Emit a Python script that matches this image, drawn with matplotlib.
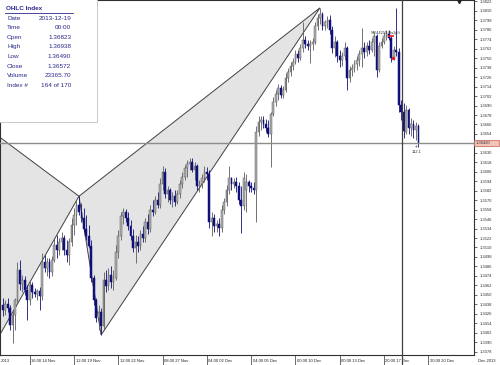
import matplotlib
matplotlib.use("Agg")
import matplotlib.pyplot as plt
from matplotlib.patches import Rectangle, Polygon
from matplotlib.transforms import blended_transform_factory

# ---------------- data (4h bars) ----------------
opens = [1.3437, 1.3431, 1.3438, 1.3433, 1.3412, 1.3424, 1.3443, 1.3481, 1.3464, 1.3469,
         1.3456, 1.3443, 1.3462, 1.3454, 1.3451, 1.3455, 1.3448, 1.3492, 1.3484, 1.3492,
         1.3479, 1.3494, 1.3513, 1.3507, 1.3517, 1.3522, 1.3507, 1.3500, 1.3517, 1.3538,
         1.3551, 1.3564, 1.3555, 1.3547, 1.3534, 1.3524, 1.3512, 1.3471, 1.3443, 1.3420,
         1.3428, 1.3410, 1.3469, 1.3461, 1.3475, 1.3466, 1.3471, 1.3504, 1.3524, 1.3550,
         1.3555, 1.3547, 1.3537, 1.3524, 1.3509, 1.3517, 1.3512, 1.3527, 1.3522, 1.3542,
         1.3534, 1.3557, 1.3555, 1.3570, 1.3564, 1.3590, 1.3606, 1.3578, 1.3583, 1.3570,
         1.3575, 1.3568, 1.3578, 1.3590, 1.3600, 1.3611, 1.3616, 1.3618, 1.3608, 1.3613,
         1.3588, 1.3590, 1.3598, 1.3606, 1.3603, 1.3542, 1.3547, 1.3537, 1.3540, 1.3535,
         1.3557, 1.3568, 1.3583, 1.3598, 1.3590, 1.3593, 1.3588, 1.3570, 1.3562, 1.3583,
         1.3593, 1.3588, 1.3585, 1.3583, 1.3656, 1.3669, 1.3672, 1.3667, 1.3662, 1.3654,
         1.3679, 1.3694, 1.3705, 1.3712, 1.3703, 1.3710, 1.3725, 1.3733, 1.3740, 1.3745,
         1.3755, 1.3750, 1.3763, 1.3773, 1.3768, 1.3766, 1.3768, 1.3771, 1.3791, 1.3801,
         1.3806, 1.3791, 1.3796, 1.3799, 1.3786, 1.3763, 1.3771, 1.3753, 1.3748, 1.3753,
         1.3763, 1.3725, 1.3735, 1.3738, 1.3743, 1.3748, 1.3755, 1.3763, 1.3758, 1.3766,
         1.3760, 1.3771, 1.3778, 1.3735, 1.3766, 1.3771, 1.3778, 1.3781, 1.3776, 1.3750,
         1.3760, 1.3758, 1.3691, 1.36823, 1.3657, 1.3684, 1.3662, 1.3667, 1.3659, 1.3664]
highs = [1.3446, 1.3443, 1.3446, 1.3437, 1.3431, 1.3446, 1.3492, 1.3494, 1.3475, 1.3474,
         1.3462, 1.3469, 1.3466, 1.3459, 1.3457, 1.3460, 1.3503, 1.3500, 1.3497, 1.3497,
         1.3499, 1.3522, 1.3526, 1.3522, 1.3529, 1.3526, 1.3519, 1.3522, 1.3547, 1.3560,
         1.3570, 1.3575, 1.3567, 1.3560, 1.3551, 1.3538, 1.3519, 1.3475, 1.3446, 1.3437,
         1.3433, 1.3479, 1.3481, 1.3484, 1.3486, 1.3481, 1.3513, 1.3532, 1.3555, 1.3560,
         1.3559, 1.3555, 1.3545, 1.3534, 1.3526, 1.3524, 1.3532, 1.3537, 1.3547, 1.3552,
         1.3564, 1.3570, 1.3575, 1.3580, 1.3598, 1.3613, 1.3611, 1.3588, 1.3585, 1.3580,
         1.3583, 1.3583, 1.3595, 1.3606, 1.3614, 1.3621, 1.3623, 1.3623, 1.3618, 1.3616,
         1.3595, 1.3603, 1.3613, 1.3612, 1.3608, 1.3555, 1.3552, 1.3545, 1.3547, 1.3564,
         1.3573, 1.3589, 1.3613, 1.3600, 1.3598, 1.3600, 1.3593, 1.3588, 1.3606, 1.3603,
         1.3595, 1.3593, 1.3593, 1.3664, 1.3677, 1.3677, 1.3677, 1.3673, 1.3672, 1.3682,
         1.3701, 1.3710, 1.3717, 1.3716, 1.3715, 1.3731, 1.3738, 1.3745, 1.3750, 1.3760,
         1.3760, 1.3768, 1.3796, 1.3778, 1.3773, 1.3773, 1.3776, 1.3796, 1.3806, 1.3814,
         1.3809, 1.3799, 1.3804, 1.3805, 1.3791, 1.3778, 1.3773, 1.3760, 1.3758, 1.3771,
         1.3766, 1.3740, 1.3743, 1.3748, 1.3753, 1.3760, 1.3788, 1.3771, 1.3771, 1.3773,
         1.3776, 1.3783, 1.3781, 1.3771, 1.3776, 1.3783, 1.3786, 1.3786, 1.3778, 1.3766,
         1.3814, 1.3763, 1.3697, 1.36938, 1.3691, 1.3687, 1.3674, 1.3672, 1.3669, 1.3666]
lows = [1.3423, 1.3424, 1.3428, 1.3405, 1.3389, 1.3405, 1.3441, 1.3456, 1.3454, 1.3450,
        1.3418, 1.3437, 1.3446, 1.3447, 1.3443, 1.3431, 1.3443, 1.3479, 1.3474, 1.3471,
        1.3474, 1.3492, 1.3497, 1.3500, 1.3507, 1.3500, 1.3492, 1.3488, 1.3512, 1.3526,
        1.3538, 1.3551, 1.3542, 1.3529, 1.3519, 1.3509, 1.3466, 1.3437, 1.3415, 1.3405,
        1.3399, 1.3405, 1.3454, 1.3456, 1.3459, 1.3456, 1.3469, 1.3497, 1.3519, 1.3540,
        1.3542, 1.3532, 1.3519, 1.3504, 1.3490, 1.3504, 1.3507, 1.3517, 1.3517, 1.3527,
        1.3529, 1.3550, 1.3552, 1.3560, 1.3560, 1.3583, 1.3573, 1.3568, 1.3565, 1.3561,
        1.3562, 1.3565, 1.3573, 1.3585, 1.3595, 1.3600, 1.3608, 1.3606, 1.3595, 1.3583,
        1.3580, 1.3585, 1.3593, 1.3595, 1.3535, 1.3524, 1.3529, 1.3529, 1.3524, 1.3529,
        1.3552, 1.3562, 1.3578, 1.3583, 1.3585, 1.3580, 1.3565, 1.3528, 1.3557, 1.3555,
        1.3580, 1.3580, 1.3578, 1.3542, 1.3651, 1.3659, 1.3662, 1.3656, 1.3650, 1.3612,
        1.3677, 1.3689, 1.3697, 1.3700, 1.3700, 1.3707, 1.3720, 1.3728, 1.3735, 1.3743,
        1.3745, 1.3748, 1.3758, 1.3763, 1.3760, 1.3744, 1.3760, 1.3768, 1.3786, 1.3793,
        1.3786, 1.3786, 1.3788, 1.3781, 1.3757, 1.3752, 1.3745, 1.3739, 1.3740, 1.3748,
        1.3710, 1.3720, 1.3728, 1.3733, 1.3735, 1.3740, 1.3739, 1.3750, 1.3753, 1.3755,
        1.3758, 1.3753, 1.3726, 1.3733, 1.3763, 1.3768, 1.3773, 1.3773, 1.3745, 1.3748,
        1.3753, 1.3682, 1.3672, 1.36490, 1.3654, 1.3654, 1.3651, 1.3649, 1.3646, 1.3638]
closes = [1.3431, 1.3438, 1.3433, 1.3412, 1.3424, 1.3443, 1.3481, 1.3464, 1.3469, 1.3456,
          1.3443, 1.3462, 1.3454, 1.3451, 1.3455, 1.3448, 1.3492, 1.3484, 1.3492, 1.3479,
          1.3494, 1.3513, 1.3507, 1.3517, 1.3522, 1.3507, 1.3500, 1.3517, 1.3538, 1.3551,
          1.3564, 1.3555, 1.3547, 1.3534, 1.3524, 1.3512, 1.3471, 1.3443, 1.3420, 1.3428,
          1.3410, 1.3469, 1.3461, 1.3475, 1.3466, 1.3471, 1.3504, 1.3524, 1.3550, 1.3555,
          1.3547, 1.3537, 1.3524, 1.3509, 1.3517, 1.3512, 1.3527, 1.3522, 1.3542, 1.3534,
          1.3557, 1.3555, 1.3570, 1.3564, 1.3590, 1.3606, 1.3578, 1.3583, 1.3570, 1.3575,
          1.3568, 1.3578, 1.3590, 1.3600, 1.3611, 1.3616, 1.3618, 1.3608, 1.3613, 1.3588,
          1.3590, 1.3598, 1.3606, 1.3603, 1.3542, 1.3547, 1.3537, 1.3540, 1.3535, 1.3557,
          1.3568, 1.3583, 1.3598, 1.3590, 1.3593, 1.3588, 1.3570, 1.3562, 1.3598, 1.3593,
          1.3588, 1.3585, 1.3583, 1.3656, 1.3669, 1.3672, 1.3667, 1.3662, 1.3654, 1.3679,
          1.3694, 1.3705, 1.3712, 1.3703, 1.3710, 1.3725, 1.3733, 1.3740, 1.3745, 1.3755,
          1.3750, 1.3763, 1.3773, 1.3768, 1.3766, 1.3768, 1.3771, 1.3791, 1.3801, 1.3806,
          1.3791, 1.3796, 1.3799, 1.3786, 1.3763, 1.3771, 1.3753, 1.3748, 1.3753, 1.3763,
          1.3725, 1.3735, 1.3738, 1.3743, 1.3748, 1.3755, 1.3763, 1.3758, 1.3766, 1.3760,
          1.3771, 1.3778, 1.3735, 1.3766, 1.3771, 1.3778, 1.3781, 1.3776, 1.3750, 1.3760,
          1.3758, 1.3691, 1.3682, 1.36572, 1.3684, 1.3662, 1.3667, 1.3659, 1.3664, 1.3642]

x_tick_bars = [11, 29, 47, 65, 83, 101, 119, 137, 155, 173]
x_tick_labels = ["16:00 14 Nov", "12:00 19 Nov", "12:00 22 Nov", "08:00 27 Nov",
                 "04:00 02 Dec", "04:00 05 Dec", "00:00 10 Dec", "00:00 13 Dec",
                 "20:00 17 Dec", "20:00 20 Dec"]
y_tick_labels = ["1.3822", "1.3810", "1.3798", "1.3786", "1.3774", "1.3762", "1.3750",
                 "1.3738", "1.3726", "1.3714", "1.3702", "1.3690", "1.3678", "1.3666",
                 "1.3654", "1.3630", "1.3618", "1.3606", "1.3594", "1.3582", "1.3570",
                 "1.3558", "1.3546", "1.3534", "1.3522", "1.3510", "1.3498", "1.3486",
                 "1.3474", "1.3462", "1.3450", "1.3438", "1.3426", "1.3414", "1.3402",
                 "1.3390", "1.3378"]
current_price = 1.36420
cursor_bar = 162.3

# harmonic pattern points (bar index, price)
tri1_bars = [-12, 31, -12]
tri1_prices = [1.3675, 1.3575, 1.3340]
tri2_bars = [31, 129, 40]
tri2_prices = [1.3575, 1.3814, 1.3399]

info_labels = ["Date", "Time", "Open", "High", "Low", "Close", "Volume", "Index #"]
info_values = ["2013-12-19", "00:00", "1.36823", "1.36938", "1.36490", "1.36572",
               "23365.70", "164 of 170"]

# ---------------- figure ----------------
W, H = 500, 365
FONT = "Liberation Sans"
plt.rcParams["font.family"] = FONT
fig = plt.figure(figsize=(W / 100, H / 100), dpi=100)
fig.patch.set_facecolor("white")
ax = fig.add_axes([0, 10 / H, 474 / W, 355 / H])
ax.set_xlim(-1.1, 191.6)
ax.set_ylim(1.33736, 1.38239)
ax.set_facecolor("white")

# pattern triangles
for bx, py in [(tri1_bars, tri1_prices), (tri2_bars, tri2_prices)]:
    poly = Polygon(list(zip(bx, py)), closed=True, facecolor="#e4e4e4",
                   edgecolor="#404040", linewidth=0.7, zorder=1)
    ax.add_patch(poly)

# candles
bull_c, bull_e, bear_c = "#b0b0b0", "#5c5c5c", "#10107a"
for i, (o, h, l, c) in enumerate(zip(opens, highs, lows, closes)):
    up = c >= o
    ax.vlines(i, l, h, color=bull_e if up else bear_c, linewidth=0.6, zorder=3)
    ax.bar(i, max(abs(c - o), 0.00004), bottom=min(o, c), width=0.72,
           color=bull_c if up else bear_c, edgecolor=bull_e if up else bear_c,
           linewidth=0.35, zorder=4)

# current price line and cursor line
ax.axhline(current_price, color="#8c8c8c", linewidth=1.0, zorder=5)
ax.axvline(cursor_bar, ymin=-10 / 355, ymax=1, color="#404040", linewidth=0.9,
           zorder=5, clip_on=False)

# spines
for s in ax.spines.values():
    s.set_color("#303030")
    s.set_linewidth(0.8)

# y ticks on right
y_vals = [float(t) for t in y_tick_labels]
ax.yaxis.tick_right()
ax.set_yticks(y_vals)
ax.set_yticklabels(y_tick_labels, fontsize=3.0, color="#303030", family=FONT)
ax.tick_params(axis="y", direction="out", length=2.5, width=0.5, pad=1.5, colors="#303030")

# x ticks
ax.set_xticks(x_tick_bars)
ax.set_xticklabels([])
ax.tick_params(axis="x", direction="out", length=10, width=0.5, colors="#303030")
trans = blended_transform_factory(ax.transData, fig.transFigure)
for b, lab in zip(x_tick_bars, x_tick_labels):
    ax.text(b + 0.6, 1.5 / H, lab, transform=trans, fontsize=3.0, color="#202020",
            ha="left", va="bottom", family=FONT, clip_on=False)
fig.text(1 / W, 1.5 / H, "2013", fontsize=3.0, color="#202020", ha="left", va="bottom", family=FONT)
fig.text(478 / W, 1.5 / H, "Dec 2013", fontsize=3.0, color="#202020", ha="left", va="bottom", family=FONT)

# current price label
ty = ax.transData.transform((0, current_price))[1] / H
fig.patches.append(Rectangle((474 / W, ty - 3 / H), 25 / W, 6 / H, transform=fig.transFigure,
                             facecolor="#f2c4b8", edgecolor="#c06050", linewidth=0.5, zorder=10))
fig.text(476 / W, ty, "1.36420", fontsize=3.0, color="#303030", ha="left", va="center",
         family=FONT, zorder=11)

# cursor info
ax.text(cursor_bar + 5.8, current_price - 0.00045, "+", fontsize=3.5, ha="center", va="center",
        color="#303030", zorder=6)
ax.text(cursor_bar + 5.8, current_price - 0.0011, "112.1", fontsize=3.0, ha="center", va="center",
        color="#303030", zorder=6, family=FONT)

# object label and markers
ax.text(149.5, 1.3780, "SF!44219:Hu2p!t", fontsize=2.8, color="#303030", ha="left",
        va="bottom", zorder=6, family=FONT)
ax.plot([157.7], [1.3778], marker="_", color="#e02020", markersize=4, mew=1.2, zorder=7)
ax.plot([158.6], [1.3750], marker="o", color="#e02020", markersize=1.5, zorder=7)
ax.plot([185.6], [1.3822], marker="v", color="#202020", markersize=3, zorder=7, clip_on=False)

# data window box
fig.patches.append(Rectangle((-0.01, 1 - 122 / H), 97 / W + 0.01, 122 / H + 0.01,
                             transform=fig.transFigure, facecolor="white",
                             edgecolor="#c0c0c0", linewidth=0.6, zorder=20))
fig.text(6 / W, 1 - 8 / H, "OHLC Index", fontsize=4.6, fontweight="bold", color="#2a2a8a",
         ha="left", va="center", family=FONT, zorder=21)
fig.lines.append(plt.Line2D([5 / W, 73 / W], [1 - 13 / H, 1 - 13 / H], transform=fig.transFigure,
                            color="#2a2a8a", linewidth=0.6, zorder=21))
for j, (lab, val) in enumerate(zip(info_labels, info_values)):
    yy = 1 - (18 + j * 9.6) / H
    fig.text(7 / W, yy, lab, fontsize=4.6, color="#2a2a8a", ha="left", va="center",
             family=FONT, zorder=21)
    fig.text(71 / W, yy, val, fontsize=4.6, color="#2a2a8a", ha="right", va="center",
             family=FONT, zorder=21)

fig.savefig("out.png", dpi=100)
